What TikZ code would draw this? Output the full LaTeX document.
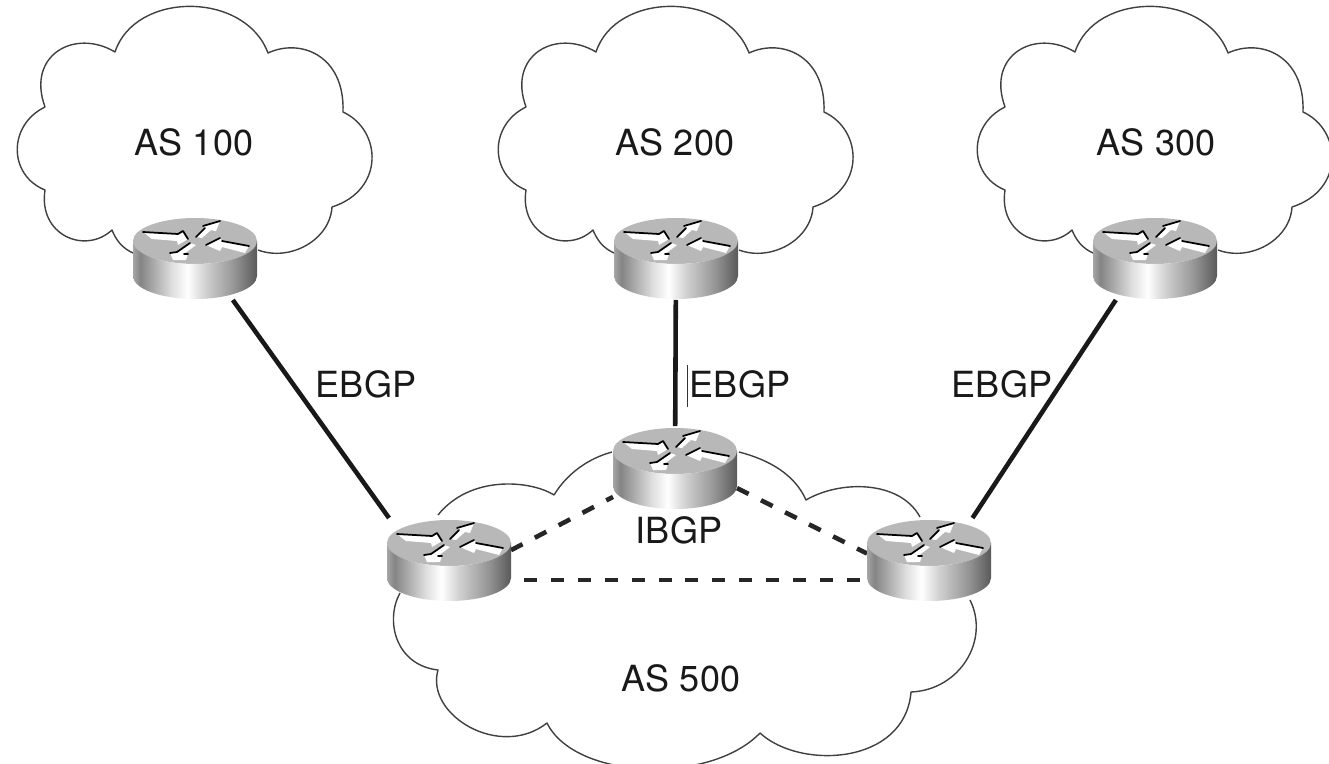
\documentclass[tikz,border=0pt]{standalone}
\usepackage{fontspec}
\setmainfont{TeX Gyre Heros}
\usepackage{xcolor}
\usetikzlibrary{positioning}

\pgfdeclarelayer{background}
\pgfsetlayers{background,main}

\pgfdeclarehorizontalshading{routerside}{100bp}{
  color(0bp)=(black!35); color(25bp)=(black!35); color(28bp)=(black!48);
  color(41bp)=(black!12); color(47bp)=(black!0); color(54bp)=(black!18);
  color(66bp)=(black!42); color(75bp)=(black!65); color(100bp)=(black!65)}

\tikzset{
  routerbox/.style={minimum width=2.48cm, minimum height=1.68cm, inner sep=0pt, outer sep=0pt},
  aslabel/.style={inner sep=0pt, font=\fontsize{20.5pt}{24pt}\selectfont, text=black!90},
  cloudline/.style={draw=black!75, line width=0.8pt, line join=round},
  ebgp/.style={black!90, line width=2.6pt},
  ibgp/.style={black!85, line width=2.6pt, dash pattern=on 7.4pt off 7.9pt},
  edgeline/.style={black, line width=1pt, line cap=round},
  pics/topcloud/.style={code={
    \draw[cloudline] (133,253) .. controls (122,248) and (116,240) .. (112,230)
      .. controls (85,255) and (38,235) .. (45,190)
      .. controls (8,175) and (8,125) .. (45,107)
      .. controls (26,55) and (75,28) .. (115,52)
      .. controls (135,-9) and (245,-9) .. (268,53)
      .. controls (300,38) and (345,55) .. (343,112)
      .. controls (382,130) and (385,190) .. (332,207)
      .. controls (330,240) and (290,262) .. (258,250);
  }},
  pics/routerface/.style={code={
    \fill[black!28] (0,-17) ellipse [x radius=62, y radius=23];
    \shade[shading=routerside] (-62,-17) -- (-62,18)
      arc [start angle=180, end angle=0, x radius=62, y radius=23] -- (62,-17)
      arc [start angle=0, end angle=180, x radius=62, y radius=23] -- cycle;
    \fill[white] (-52,-26) -- (-17,-24) -- (-12,-27) -- (-7,-19) -- (-17,-13) -- (-18,-17) -- (-43,-19) -- cycle;
    \fill[white] (1,-21) -- (10,-30) -- (8,-32) -- (25,-37) -- (21,-27) -- (16,-28) -- (7,-20) -- cycle;
    \fill[white] (11,-13) -- (25,-20) -- (27,-17) -- (54,-12) -- (50,-5) -- (27,-11) -- (25,-7) -- cycle;
    \fill[white] (-22,2) -- (-25,-5) -- (-18,-6) -- (-5,-15) -- (1,-13) -- (-11,-4) -- (-7,-4) -- (-9,2) -- cycle;
    \draw[edgeline] (-52,-26) -- (-17,-24) -- (-12,-27) (-12,-27) -- (-7,-19);
    \draw[edgeline] (1,-21) -- (10,-30) (8,-32) -- (25,-37);
    \draw[edgeline] (11,-13) -- (25,-20) (27,-17) -- (54,-12);
    \draw[edgeline] (-25,-5) -- (-18,-6) -- (-5,-15) (-11,-4) -- (-7,-4);
  }}
}

\newcommand{\router}[2]{
  \node[routerbox] (#1) at (#2) {};
  \pic at (#1.center) {routerface};
}

\begin{document}
\begin{tikzpicture}[x=0.02cm,y=-0.02cm]
  \useasboundingbox (0,0) rectangle (1329,764);

  \pic at (0,0) {topcloud};
  \pic at (481,0) {topcloud};
  \pic at (960,0) {topcloud};

  \draw[cloudline] (612,452) .. controls (590,458) and (568,472) .. (554,495)
    .. controls (530,480) and (470,475) .. (438,515);
  \draw[cloudline] (400,593) .. controls (385,620) and (395,665) .. (438,670)
    .. controls (425,715) and (500,760) .. (547,723)
    .. controls (575,780) and (710,785) .. (760,733)
    .. controls (800,770) and (905,765) .. (911,692)
    .. controls (960,690) and (990,640) .. (970,600);
  \draw[cloudline] (920,517) .. controls (900,480) and (840,480) .. (806,500)
    .. controls (795,475) and (770,460) .. (739,452);

  \router{r100}{195,258}
  \router{r200}{676,258}
  \router{r300}{1155,258}
  \router{r500b}{675,468}
  \router{r500a}{449,560}
  \router{r500c}{929,560}

  \begin{pgfonlayer}{background}
    \draw[ebgp] (r100.-48) -- (r500a.145);
    \draw[ebgp] (r200) -- (r500b);
    \draw[ebgp] (r300.-133) -- (r500c.44);
    \draw[ibgp] (r500a.9) -- (r500b.205);
    \draw[ibgp] (r500b.-18) -- (r500c.174);
    \draw[ibgp, shorten <=7.5pt, shorten >=3.4pt] (r500a.-18) -- (r500c.198);
  \end{pgfonlayer}

  \node[aslabel] (as100) at (194,142) {AS 100};
  \node[aslabel] (as200) at (675,142) {AS 200};
  \node[aslabel] (as300) at (1156,142) {AS 300};
  \node[aslabel] (as500) at (681,678) {AS 500};
  \node[aslabel] (ebgp100) at (366,384) {EBGP};
  \node[aslabel] (ebgp200) at (740,384) {EBGP};
  \node[aslabel] (ebgp300) at (1002,384) {EBGP};
  \node[aslabel] (ibgp500) at (679,530) {IBGP};
  \draw[black!80, line width=0.5pt] (687,365) -- (687,407);
\end{tikzpicture}
\end{document}
